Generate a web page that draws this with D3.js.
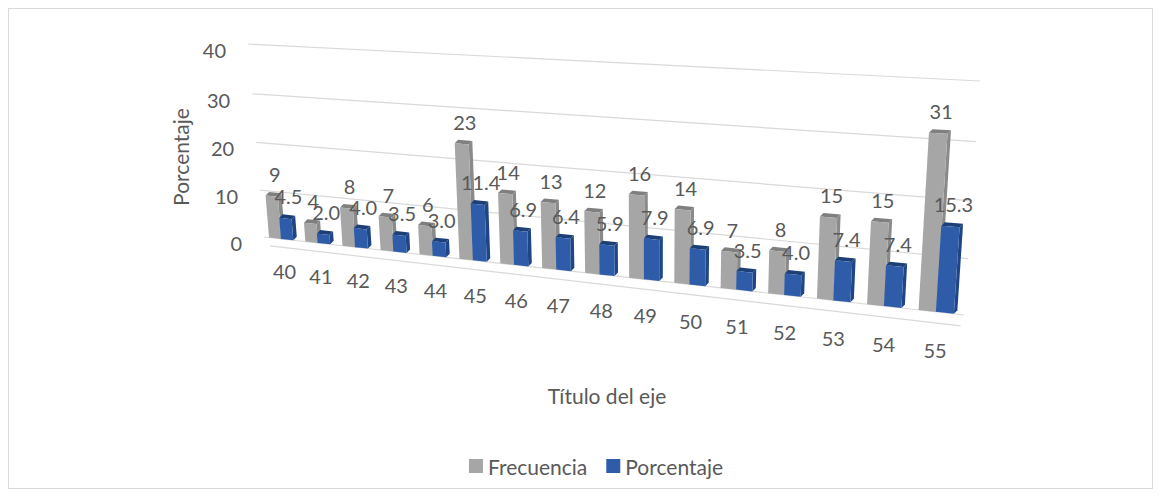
<!DOCTYPE html>
<html>
<head>
<meta charset="utf-8">
<script src="https://cdn.jsdelivr.net/npm/d3@7"></script>
<style>
  html, body { margin: 0; padding: 0; background: #ffffff; }
  svg { display: block; }
  text { font-family: Lato, "Open Sans", "DejaVu Sans", sans-serif; fill: #595959; }
</style>
</head>
<body>
<svg id="chart" width="1161" height="497"></svg>
<script>
// ---------------- data ----------------
const categories = ['40','41','42','43','44','45','46','47','48','49','50','51','52','53','54','55'];
const frecuencia = [9, 4, 8, 7, 6, 23, 14, 13, 12, 16, 14, 7, 8, 15, 15, 31];
const porcentaje = [4.5, 2.0, 4.0, 3.5, 3.0, 11.4, 6.9, 6.4, 5.9, 7.9, 6.9, 3.5, 4.0, 7.4, 7.4, 15.3];
const porcentajeLabels = ['4.5','2.0','4.0','3.5','3.0','11.4','6.9','6.4','5.9','7.9','6.9','3.5','4.0','7.4','7.4','15.3'];
const yTicks = [0, 10, 20, 30, 40];
const seriesNames = ['Frecuencia', 'Porcentaje'];
const yAxisTitle = 'Porcentaje';
const xAxisTitle = 'Título del eje';

// ---------------- perspective setup ----------------
const svg = d3.select('#chart');

// back wall corners
const wall = { p0: [264, 237], p1: [964, 315], p2: [980, 81], p3: [248, 44] };

function squareToQuad(P0, P1, P2, P3) {
  const [x0, y0] = P0, [x1, y1] = P1, [x2, y2] = P2, [x3, y3] = P3;
  const sx = x0 - x1 + x2 - x3, sy = y0 - y1 + y2 - y3;
  const dx1 = x1 - x2, dx2 = x3 - x2, dy1 = y1 - y2, dy2 = y3 - y2;
  const den = dx1 * dy2 - dx2 * dy1;
  const g = (sx * dy2 - dx2 * sy) / den;
  const h = (dx1 * sy - sx * dy1) / den;
  const a = x1 - x0 + g * x1, b = x3 - x0 + h * x3, c = x0;
  const d = y1 - y0 + g * y1, e = y3 - y0 + h * y3, f = y0;
  return (u, v) => {
    const w = g * u + h * v + 1;
    return [(a * u + b * v + c) / w, (d * u + e * v + f) / w];
  };
}
const proj = squareToQuad(wall.p0, wall.p1, wall.p2, wall.p3);

const xScale = d3.scaleLinear().domain([0, categories.length]).range([0, 1]);
const yScale = d3.scaleLinear().domain([0, 40]).range([0, 1]);
const P = (xc, val) => proj(xScale(xc), yScale(val));

// border
svg.append('rect').attr('x', 8.5).attr('y', 8.5).attr('width', 1144).attr('height', 480)
  .attr('fill', '#fff').attr('stroke', '#d9d9d9').attr('stroke-width', 1);

// ---------------- gridlines ----------------
const grid = svg.append('g');
yTicks.forEach(t => {
  const a = P(0, t), b = P(categories.length, t);
  grid.append('line').attr('x1', a[0]).attr('y1', a[1]).attr('x2', b[0]).attr('y2', b[1])
    .attr('stroke', '#d9d9d9').attr('stroke-width', 1.2);
});
// floor front edge
{
  const a = P(0.15, -1.8), b = P(categories.length - 0.05, -2.0);
  grid.append('line').attr('x1', a[0]).attr('y1', a[1]).attr('x2', b[0]).attr('y2', b[1])
    .attr('stroke', '#d9d9d9').attr('stroke-width', 1.2);
}

// y tick labels
yTicks.forEach(t => {
  const a = P(0, t);
  svg.append('text').attr('x', a[0] - 22).attr('y', a[1] + 6)
    .attr('text-anchor', 'end').attr('dominant-baseline', 'central')
    .attr('font-size', 20).text(t);
});

// y axis title
svg.append('text').attr('transform', 'translate(180,157) rotate(-90)')
  .attr('text-anchor', 'middle').attr('dominant-baseline', 'central')
  .attr('font-size', 21).text(yAxisTitle);

// ---------------- bars ----------------
const barSpec = [
  { values: frecuencia, labels: frecuencia.map(String), off0: -0.36, off1: -0.02,
    front: '#a6a6a6', side: '#8a8a8a', top: '#7f7f7f' },
  { values: porcentaje, labels: porcentajeLabels, off0: -0.03, off1: 0.31,
    front: '#2e5ca8', side: '#1f4584', top: '#1d3f78' }
];
const depth = [3.5, -3.5];
const poly = pts => pts.map(p => p.join(',')).join(' ');
const bars = svg.append('g');
const labelsG = svg.append('g');

categories.forEach((c, i) => {
  barSpec.forEach(s => {
    const v = s.values[i];
    const xc = i + 0.5;
    const bl = P(xc + s.off0, 0), br = P(xc + s.off1, 0);
    const tl = P(xc + s.off0, v), tr = P(xc + s.off1, v);
    const sh = p => [p[0] + depth[0], p[1] + depth[1]];
    bars.append('polygon').attr('points', poly([br, tr, sh(tr), sh(br)])).attr('fill', s.side);
    bars.append('polygon').attr('points', poly([tl, tr, sh(tr), sh(tl)])).attr('fill', s.top);
    bars.append('polygon').attr('points', poly([bl, br, tr, tl])).attr('fill', s.front);
  });
});

// data labels
categories.forEach((c, i) => {
  barSpec.forEach(s => {
    const v = s.values[i];
    const xc = i + 0.5 + (s.off0 + s.off1) / 2;
    const t = P(xc, v);
    labelsG.append('text').attr('x', t[0] + 3).attr('y', t[1] - 22)
      .attr('text-anchor', 'middle').attr('dominant-baseline', 'central')
      .attr('font-size', 20).text(s.labels[i]);
  });
});

// category labels
categories.forEach((c, i) => {
  const p = P(i + 0.5, -7);
  svg.append('text').attr('x', p[0]).attr('y', p[1])
    .attr('text-anchor', 'middle').attr('dominant-baseline', 'central')
    .attr('font-size', 20).text(c);
});

// x axis title
svg.append('text').attr('x', 607).attr('y', 395)
  .attr('text-anchor', 'middle').attr('dominant-baseline', 'central')
  .attr('font-size', 21).text(xAxisTitle);

// ---------------- legend ----------------
const legendColors = ['#a6a6a6', '#2e5ca8'];
const legend = svg.append('g');
let lx = 0;
seriesNames.forEach((name, k) => {
  const g = legend.append('g').attr('transform', `translate(${lx},0)`);
  g.append('rect').attr('x', 0).attr('y', -7).attr('width', 14).attr('height', 14).attr('fill', legendColors[k]);
  const t = g.append('text').attr('x', 19).attr('y', 0).attr('dominant-baseline', 'central')
    .attr('font-size', 21).text(name);
  lx += 19 + t.node().getComputedTextLength() + 19;
});
const legendW = lx - 19;
legend.attr('transform', `translate(${596 - legendW / 2},466)`);
</script>
</body>
</html>
